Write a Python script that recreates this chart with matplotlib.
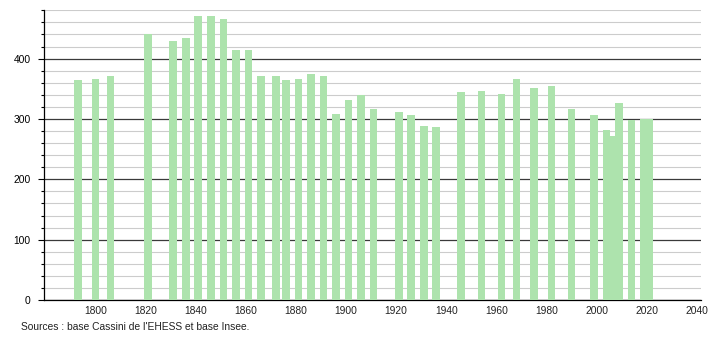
import numpy as np
import matplotlib.pyplot as plt
from matplotlib.ticker import MultipleLocator

plt.rcParams['font.family'] = ['Liberation Sans', 'DejaVu Sans']

# census years and population
years = [1793, 1800, 1806, 1821, 1831, 1836, 1841, 1846, 1851, 1856,
         1861, 1866, 1872, 1876, 1881, 1886, 1891, 1896, 1901, 1906,
         1911, 1921, 1926, 1931, 1936, 1946, 1954, 1962, 1968, 1975,
         1982, 1990, 1999, 2004, 2006, 2009, 2014, 2019, 2021]
population = [364, 367, 372, 440, 430, 434, 470, 470, 465, 415,
              415, 372, 372, 364, 366, 374, 371, 308, 331, 339,
              316, 311, 306, 289, 286, 344, 346, 341, 367, 352,
              354, 317, 306, 281, 271, 326, 299, 300, 300]
xtick_years = list(range(1800, 2041, 20))
source_text = "Sources : base Cassini de l'EHESS et base Insee."

fig = plt.figure(figsize=(7.1, 3.4), dpi=100)
ax = fig.add_axes([0.062, 0.1176, 0.925, 0.852])

ax.bar(years, population, width=3.07, color='#ade3ad', zorder=3)

ax.set_xlim(1779.4, 2041.6)
ax.set_ylim(0, 480)

ax.yaxis.set_major_locator(MultipleLocator(100))
ax.yaxis.set_minor_locator(MultipleLocator(20))
ax.set_xticks(xtick_years)

ax.grid(which='minor', axis='y', color='#cccccc', linewidth=0.8, zorder=0)
ax.grid(which='major', axis='y', color='#3a3a3a', linewidth=0.9, zorder=1)
ax.set_axisbelow(True)

for s in ['top', 'right']:
    ax.spines[s].set_visible(False)
ax.spines['left'].set_linewidth(0.9)
ax.spines['bottom'].set_linewidth(0.9)

ax.tick_params(axis='x', length=0, labelsize=7.4, pad=4, colors='#222222')
ax.tick_params(axis='y', which='major', length=4.5, width=0.8, labelsize=7.4, pad=5)
ax.tick_params(axis='y', which='minor', length=2.2, width=0.8)

fig.text(0.029, 0.03, source_text, fontsize=7.4, color='#222222')

plt.savefig('out.png', dpi=100)
